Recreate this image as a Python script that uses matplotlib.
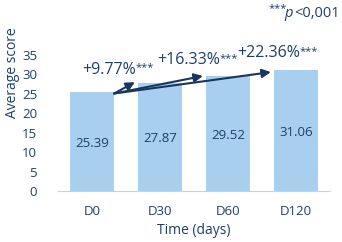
import matplotlib.pyplot as plt
import numpy as np

plt.rcParams['font.family'] = ['Open Sans', 'DejaVu Sans']

days = ['D0', 'D30', 'D60', 'D120']
scores = [25.39, 27.87, 29.52, 31.06]
changes = ['+9.77%', '+16.33%', '+22.36%']

bar_col = '#a9cfee'
txt_col = '#1f3f66'
arrow_col = '#17375e'

fig = plt.figure(figsize=(3.42, 2.42), dpi=100)
ax = fig.add_axes([0.1696, 0.2107, 0.7954, 0.6423])

x = np.arange(len(days))
w = 0.65
ax.bar(x, scores, width=w, color=bar_col)

for i, v in enumerate(scores):
    ax.text(x[i], v / 2 - 0.4, f'{v:.2f}', ha='center', va='center', fontsize=9.5, color=txt_col)

# arrows from D0 to the later bars
tips = [(0.63, 28.0), (1.63, 29.6), (2.63, 30.6)]
for tx, ty in tips:
    ax.annotate('', xy=(tx, ty), xytext=(x[0] + w / 2, scores[0] - 0.3),
                arrowprops=dict(arrowstyle='-|>', color=arrow_col, lw=1.5, mutation_scale=13,
                                shrinkA=0, shrinkB=0),
                annotation_clip=False)

lab_pos = [(-0.15, 31.2), (0.955, 33.7), (2.13, 35.5)]
for (lx, ly), c in zip(lab_pos, changes):
    t = ax.text(lx, ly, c, ha='left', va='center', fontsize=11.5, color=txt_col)
    ax.annotate('***', xy=(1, 0.62), xycoords=t, ha='left', va='center',
                fontsize=8, color=txt_col)

# significance note, built right to left
n = ax.text(3.647, 44.8, '<0,001', ha='right', va='baseline', fontsize=10.5,
            color=txt_col, clip_on=False)
p = ax.annotate('p', xy=(0, 0), xycoords=n, xytext=(-1, 0), textcoords='offset points',
                ha='right', va='bottom', fontsize=10.5, style='italic', color=txt_col)
ax.annotate('***', xy=(0, 0), xycoords=p, xytext=(1.8, 5), textcoords='offset points',
            ha='right', va='bottom', fontsize=8, color=txt_col)

ax.set_xlim(-0.5, 3.5)
ax.set_ylim(0, 40)
ax.set_yticks(range(0, 40, 5))
ax.set_xticks(x)
ax.set_xticklabels(days)
ax.tick_params(axis='both', length=0, labelsize=9.5, labelcolor=txt_col)
ax.tick_params(axis='x', pad=10)
ax.tick_params(axis='y', pad=15)
for sp in ['top', 'right', 'left']:
    ax.spines[sp].set_visible(False)
ax.spines['bottom'].set_color('#d0d0d0')
ax.set_xlabel('Time (days)', fontsize=10, color=txt_col, labelpad=4)
ax.set_ylabel('Average score', fontsize=10, color=txt_col)
ax.yaxis.set_label_coords(-0.14, 0.76)

fig.savefig('out.png', dpi=100)
